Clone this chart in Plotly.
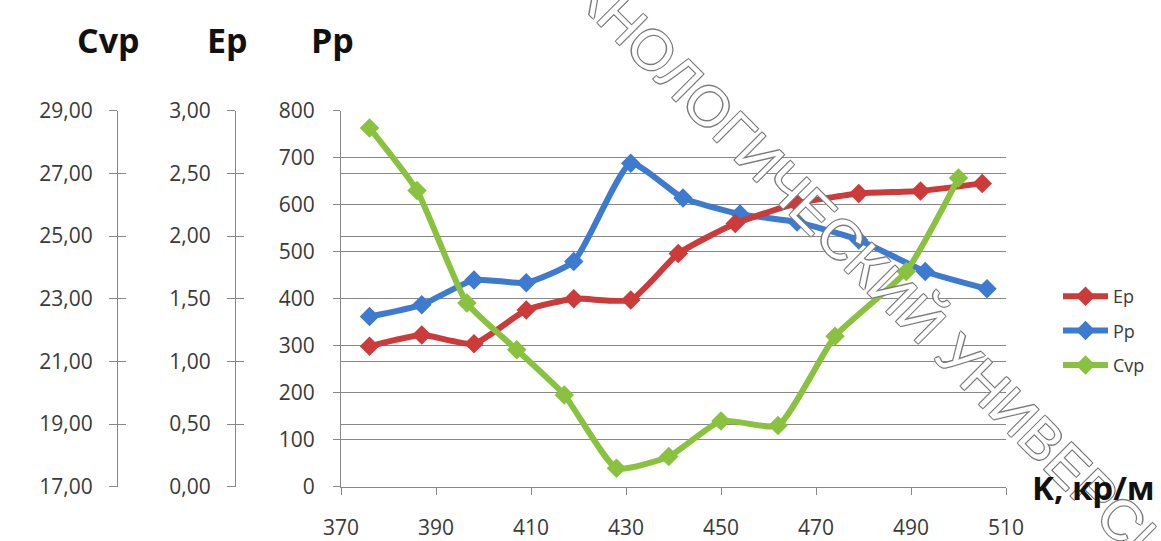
import plotly.graph_objects as go

# ---- data ----
k_ep = [376, 387, 398, 409, 419, 431, 441, 453, 466, 479, 492, 505]
ep = [1.12, 1.21, 1.14, 1.41, 1.50, 1.49, 1.86, 2.10, 2.26, 2.34, 2.36, 2.42]

k_pp = [376, 387, 398, 409, 419, 431, 442, 454, 466, 479, 493, 506]
pp = [362, 387, 440, 434, 479, 688, 614, 580, 563, 525, 458, 421]

k_cvp = [376, 386, 396.5, 407, 417, 428, 439, 450, 462, 474, 489, 500]
cvp = [28.45, 26.45, 22.86, 21.37, 19.93, 17.59, 17.96, 19.10, 18.95, 21.80, 23.87, 26.85]

x_ticks_start, x_ticks_step = 370, 20
series_names = ["Ep", "Pp", "Cvp"]
axis_titles = ["Cvp", "Ep", "Pp"]
x_title = "K, кр/м"
watermark = "ТЕХНОЛОГИЧЕСКИЙ УНИВЕРСИТЕТ"

# ---- style ----
W, H = 1161, 541
RED = "#CC3A3A"
BLUE = "#3C7BCF"
GREEN = "#88C23F"
GRID = "#878787"
TXT = "#3a3a3a"
FONT = "Open Sans"

x_left, x_right = 341 / W, 1006 / W
y_bot, y_top = 1 - 486.7 / H, 1 - 110.7 / H
pos_ep = 235 / W
pos_cvp = 117 / W

tickfont = dict(family=FONT, size=21, color=TXT)
line_style = dict(width=6, shape="spline", smoothing=0.5)

fig = go.Figure()

fig.add_trace(go.Scatter(
    x=k_pp, y=pp, name=series_names[1], mode="lines+markers",
    line=dict(color=BLUE, **line_style),
    marker=dict(symbol="diamond", size=15, color=BLUE),
    legendrank=2, legendgroup="pp", xaxis="x", yaxis="y", hoverinfo="skip"))
fig.add_trace(go.Scatter(
    x=k_ep, y=ep, name=series_names[0], mode="lines+markers",
    line=dict(color=RED, **line_style),
    marker=dict(symbol="diamond", size=15, color=RED),
    legendrank=1, legendgroup="ep", xaxis="x", yaxis="y2", hoverinfo="skip"))
fig.add_trace(go.Scatter(
    x=k_cvp, y=cvp, name=series_names[2], mode="lines+markers",
    line=dict(color=GREEN, **line_style),
    marker=dict(symbol="diamond", size=15, color=GREEN),
    legendrank=3, legendgroup="cvp", xaxis="x", yaxis="y3", hoverinfo="skip"))
# empty traces so the inner-tick helper axes are drawn
fig.add_trace(go.Scatter(x=[], y=[], xaxis="x", yaxis="y4", showlegend=False, hoverinfo="skip"))
fig.add_trace(go.Scatter(x=[], y=[], xaxis="x", yaxis="y5", showlegend=False, hoverinfo="skip"))

common_y = dict(showline=True, linecolor=GRID, linewidth=1, zeroline=False,
                tickcolor=GRID, tickwidth=1, tickfont=tickfont)

fig.update_layout(
    width=W, height=H, autosize=False,
    margin=dict(l=0, r=0, t=0, b=0, autoexpand=False),
    paper_bgcolor="white", plot_bgcolor="white",
    separators=", ",
    showlegend=True,
    legend=dict(x=1058 / W, y=1 - 331 / H, xanchor="left", yanchor="middle",
                font=dict(family=FONT, size=18, color=TXT),
                tracegroupgap=8, bgcolor="rgba(0,0,0,0)", itemwidth=45),
    xaxis=dict(domain=[x_left, x_right], range=[370, 510],
               tick0=x_ticks_start, dtick=x_ticks_step,
               ticks="outside", ticklen=7, tickcolor=GRID,
               showline=True, linecolor=GRID, linewidth=1,
               showgrid=False, zeroline=False, tickfont=tickfont,
               ticklabelstandoff=15, anchor="y"),
    yaxis=dict(domain=[y_bot, y_top], range=[0, 800], tick0=0, dtick=100,
               showgrid=True, gridcolor=GRID, gridwidth=1,
               ticks="outside", ticklen=7, ticklabelstandoff=14,
               anchor="x", **common_y),
    yaxis2=dict(overlaying="y", anchor="free", position=pos_ep, side="left",
                range=[0, 3], tick0=0, dtick=0.5, tickformat=".2f",
                showgrid=True, gridcolor=GRID, gridwidth=1,
                ticks="outside", ticklen=8, ticklabelstandoff=12, **common_y),
    yaxis3=dict(overlaying="y", anchor="free", position=pos_cvp, side="left",
                range=[17, 29], tick0=17, dtick=2, tickformat=".2f",
                showgrid=False,
                ticks="outside", ticklen=8, ticklabelstandoff=12, **common_y),
    yaxis4=dict(overlaying="y", anchor="free", position=pos_ep, side="left",
                range=[0, 3], tick0=0, dtick=0.5, showgrid=False, zeroline=False,
                showline=False, showticklabels=False,
                ticks="inside", ticklen=8, tickcolor=GRID),
    yaxis5=dict(overlaying="y", anchor="free", position=pos_cvp, side="left",
                range=[17, 29], tick0=17, dtick=2, showgrid=False, zeroline=False,
                showline=False, showticklabels=False,
                ticks="inside", ticklen=8, tickcolor=GRID),
)

# watermark first, so the other texts sit above it
fig.add_annotation(text=watermark, x=885 / W, y=1 - 282 / H, xref="paper", yref="paper",
                   xanchor="center", yanchor="middle", showarrow=False, textangle=45,
                   font=dict(family="Liberation Sans", size=56, color="white",
                             shadow="-1px -1px 0 #7a7a7a, 1px -1px 0 #7a7a7a, -1px 1px 0 #7a7a7a, 1px 1px 0 #7a7a7a"))

title_font = dict(family=FONT, size=34, color="#111111", weight="bold")
for txt, xc in zip(axis_titles, [108, 227, 332]):
    fig.add_annotation(text=txt, x=xc / W, y=1 - 40 / H, xref="paper", yref="paper",
                       xanchor="center", yanchor="middle", showarrow=False,
                       font=title_font)

fig.add_annotation(text=x_title, x=1157 / W, y=1 - 487 / H, xref="paper", yref="paper",
                   xanchor="right", yanchor="middle", showarrow=False,
                   font=dict(family=FONT, size=33, color="#111111", weight="bold"))

fig.write_html("out.html", config={"displayModeBar": False},
               post_script="document.body.style.margin='0';")
